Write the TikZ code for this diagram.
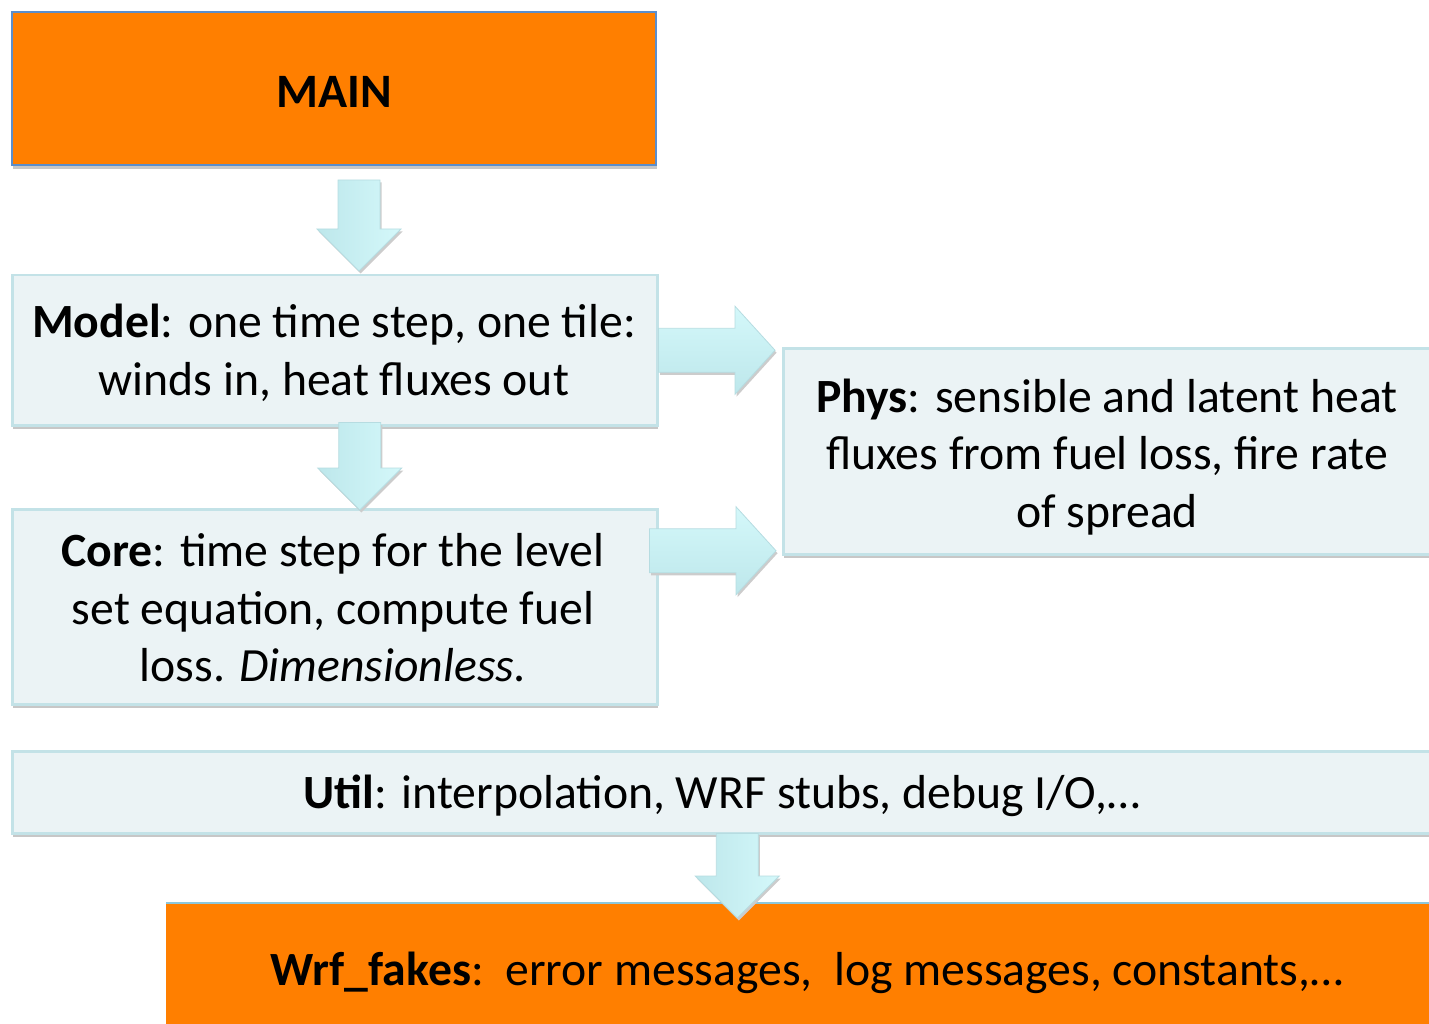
\documentclass[tikz,border=0pt]{standalone}
\usepackage{fontspec}
\setmainfont{Carlito}
\usetikzlibrary{calc,shadows}

\definecolor{mainorange}{HTML}{FF7F00}
\definecolor{mainedge}{HTML}{5B8ECC}
\definecolor{boxfill}{HTML}{EBF3F5}
\definecolor{boxedge}{HTML}{C3E2E7}
\definecolor{wrfedge}{HTML}{8CC7DB}
\definecolor{arrowA}{HTML}{BDE7EB}
\definecolor{arrowB}{HTML}{D4F8FA}
\definecolor{arrowedge}{HTML}{B6DCE1}

\tikzset{
  boxshadow/.style={drop shadow={shadow xshift=1pt,shadow yshift=-4pt,fill=black!22,opacity=1}},
  orangebox/.style={rectangle,fill=mainorange,inner sep=0pt,boxshadow},
  lightbox/.style={rectangle,fill=boxfill,draw=boxedge,line width=2.5pt,inner sep=0pt,boxshadow},
  lbl/.style={align=center,inner sep=0pt,font=\fontsize{47.7}{57.5}\selectfont},
  arrowshadow/.style={drop shadow={shadow xshift=1.5pt,shadow yshift=-2.5pt,fill=black!20,opacity=1}},
  downarrow/.style={left color=arrowA,right color=arrowB,draw=arrowedge,line width=0.8pt,arrowshadow},
  rightarrow/.style={top color=arrowB,bottom color=arrowA,draw=arrowedge,line width=0.8pt,arrowshadow},
}

% block arrow pointing down, from a tail point to a tip point below it
\newcommand\blockdown[2]{%
  \path[downarrow] let \p1=(#1), \p2=(#2) in
    (\x1-21pt,\y1) -- (\x1+21pt,\y1) -- (\x1+21pt,\y2+42pt) -- (\x1+42pt,\y2+42pt)
    -- (\x1,\y2) -- (\x1-42pt,\y2+42pt) -- (\x1-21pt,\y2+42pt) -- cycle;}
% block arrow pointing right, from a tail point to a tip point on the same level
\newcommand\blockright[2]{%
  \path[rightarrow] let \p1=(#1), \p2=(#2) in
    (\x1,\y1+22pt) -- (\x2-40pt,\y1+22pt) -- (\x2-40pt,\y1+44pt) -- (\x2,\y1)
    -- (\x2-40pt,\y1-44pt) -- (\x2-40pt,\y1-22pt) -- (\x1,\y1-22pt) -- cycle;}

\begin{document}
\begin{tikzpicture}[x=1pt,y=-1pt]
\useasboundingbox (0,0) rectangle (1429,1024);
\clip (0,0) rectangle (1429,1024);

% module boxes
\node[orangebox,draw=mainedge,line width=2pt,minimum width=644,minimum height=153,anchor=north west] (main) at (11,11) {};
\node[lightbox,minimum width=645,minimum height=150,anchor=north west] (model) at (11,274) {};
\node[lightbox,minimum width=645,minimum height=195,anchor=north west] (core) at (11,508) {};
\node[lightbox,minimum width=650,minimum height=206,anchor=north west] (phys) at (782,347) {};
\node[lightbox,minimum width=1422,minimum height=82,anchor=north west] (util) at (11,750) {};
\node[orangebox,minimum width=1282,minimum height=140,anchor=north west] (wrf) at (166,903) {};
\draw[wrfedge,line width=2pt] (wrf.north west) -- (wrf.north east);

% labels
\node[inner sep=0pt,font=\fontsize{48}{57.5}\selectfont\bfseries] (mainlbl) at (334,92) {MAIN};
\node[lbl] (modellbl) at (334,353) {\textbf{Model}: one time step, one tile:\\winds in, heat fluxes out};
\node[lbl] (corelbl) at (333,608) {\textbf{Core}: time step for the level\\set equation, compute fuel\\loss. \textit{Dimensionless.}};
\node[lbl] (physlbl) at (1107,457) {\textbf{Phys}: sensible and latent heat\\fluxes from fuel loss, fire rate\\of spread};
\node[lbl] (utillbl) at (722,796) {\textbf{Util}: interpolation, WRF stubs, debug I/O,…};
\node[lbl] (wrflbl) at (807,973) {\textbf{Wrf\_fakes}:\ \ error messages,\ \ log messages, constants,…};

% block arrows between the modules
\blockdown{[xshift=25pt,yshift=-14pt]main.south}{[xshift=25pt,yshift=3pt]model.north}
\blockdown{[xshift=25pt,yshift=4pt]model.south}{[xshift=25pt,yshift=-2pt]core.north}
\blockdown{[xshift=14pt,yshift=1pt]util.south}{[xshift=-71pt,yshift=-15pt]wrf.north}
\blockright{[yshift=0pt]model.east}{[xshift=-7pt]phys.west}
\blockright{[xshift=-9pt,yshift=56pt]core.east}{[xshift=-6pt]phys.west}
\end{tikzpicture}
\end{document}
